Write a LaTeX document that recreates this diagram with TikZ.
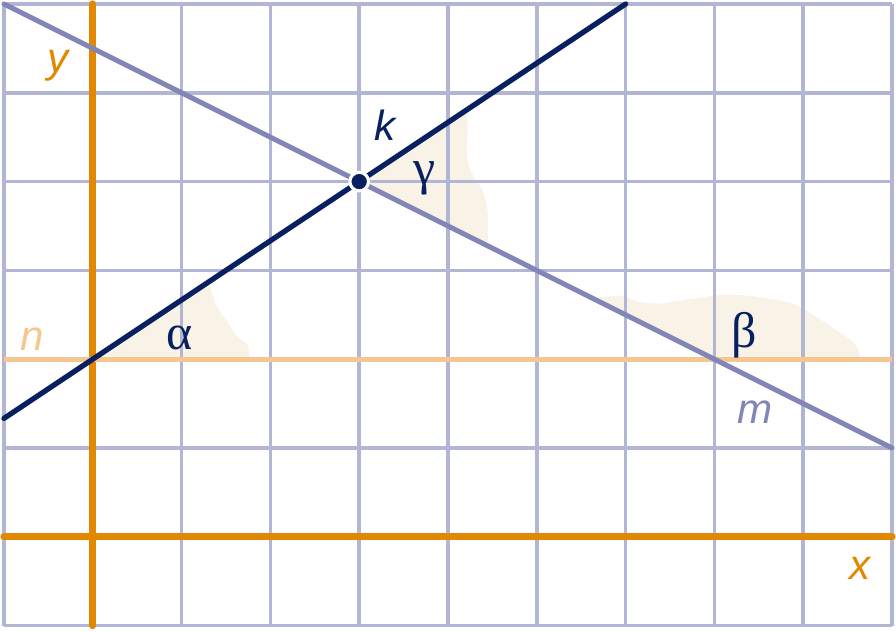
\documentclass[tikz,border=0pt]{standalone}
\usepackage{fontspec}
\setmainfont{Liberation Sans}
\newfontfamily\greekfont{Liberation Serif}
\usetikzlibrary{calc}
\definecolor{gridblue}{RGB}{178,181,212}
\definecolor{axisorange}{RGB}{226,136,0}
\definecolor{lightorange}{RGB}{246,198,144}
\definecolor{navy}{RGB}{8,32,96}
\definecolor{slate}{RGB}{130,134,182}
\definecolor{beige}{RGB}{249,242,230}

\begin{document}
\begin{tikzpicture}[x=1cm,y=1cm,
	gridline/.style={gridblue,line width=1.1pt},
	axis/.style={axisorange,line width=2.3pt,line cap=round},
	lbl/.style={font=\fontsize{13.5}{15}\selectfont\itshape,inner sep=0pt},
	ang/.style={font=\fontsize{16}{18}\greekfont,text=navy,inner sep=0pt},
	blob/.style={fill=beige,draw=none}]
	\useasboundingbox (-1.045,-1.061) rectangle (9.045,6.045);
	
	\coordinate (O) at (0,0);
	\coordinate (S) at (3,4);
	\coordinate (A) at (0,2);
	\coordinate (B) at (7,2);
	\coordinate (k1) at (-1,4/3);
	\coordinate (k2) at (6,6);
	\coordinate (m1) at (-1,6);
	\coordinate (m2) at (9,1);
	\coordinate (n1) at (-1,2);
	\coordinate (n2) at (9,2);
	
	%angle areas
	\fill[blob] (A) -- (1.3,2.867) to[out=-70,in=135] (1.509,2.435)
		to[out=-60,in=150] (1.734,2.176) to[out=-70,in=90] (1.77,2) -- cycle;
	\fill[blob] (S) -- (4.19,4.793) to[out=-70,in=100] (4.22,4.24)
		to[out=-80,in=120] (4.39,3.90) to[out=-70,in=90] (4.45,3.275) -- cycle;
	\fill[blob] (B) -- (5.62,2.69) -- (5.97,2.717) to[out=-30,in=180] (6.42,2.627)
		to[out=10,in=190] (7.06,2.728) to[out=0,in=170] (7.74,2.661)
		to[out=-10,in=150] (8.27,2.401) to[out=-40,in=90] (8.64,2) -- cycle;
	
	%grid
	\foreach \i in {-1,0,...,9}{
		\draw[gridline] (\i,-1) -- (\i,6);
	}
	\foreach \j in {-1,0,...,6}{
		\draw[gridline] (-1,\j) -- (9,\j);
	}
	
	%axes
	\draw[axis] (-1,0) -- (9,0);
	\draw[axis] (0,-1) -- (0,6);
	
	%lines
	\draw[lightorange,line width=1.6pt] (n1) -- (n2);
	\draw[slate,line width=1.6pt,line cap=round] (m1) -- (m2);
	\draw[navy,line width=1.7pt,line cap=round] (k1) -- (k2);
	\fill[navy,draw=white,line width=1pt] (S) circle[radius=0.105];
	
	%labels
	\node[lbl,text=axisorange] (ylbl) at (-0.394,5.31) {y};
	\node[lbl,text=axisorange] (xlbl) at (8.64,-0.35) {x};
	\node[lbl,text=lightorange] (nlbl) at (-0.687,2.23) {n};
	\node[lbl,text=navy] (klbl) at (3.29,4.63) {k};
	\node[lbl,text=slate] (mlbl) at (7.455,1.40) {m};
	\node[ang] (alpha) at (0.98,2.24) {α};
	\node[ang] (beta) at (7.34,2.27) {β};
	\node[ang] (gamma) at (3.74,4.04) {γ};
	
\end{tikzpicture}
\end{document}
